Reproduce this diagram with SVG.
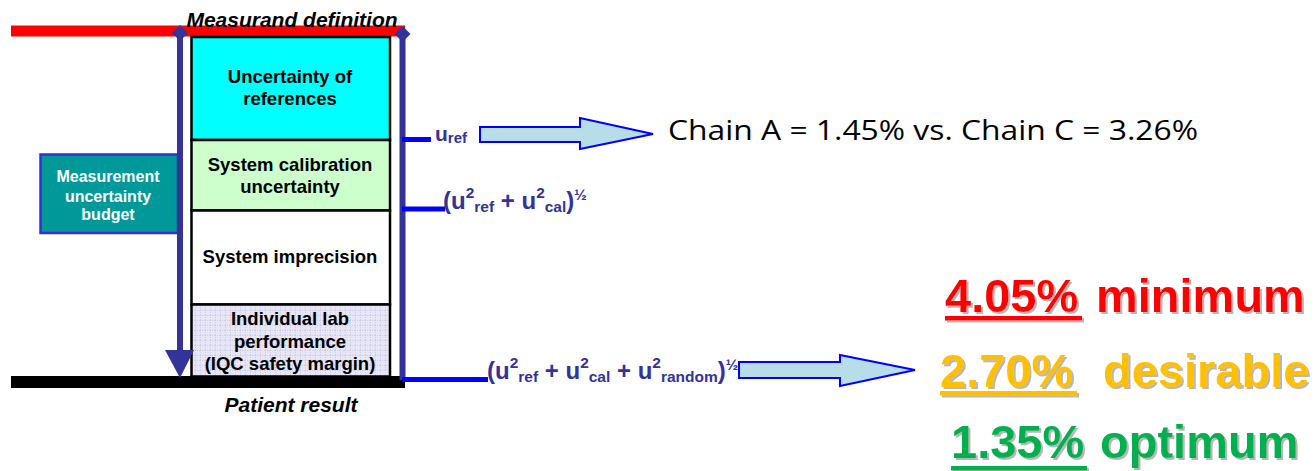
<svg xmlns="http://www.w3.org/2000/svg" width="1316" height="471" viewBox="0 0 1316 471">
<style>
.lbl{font-family:"Liberation Sans",Arial,sans-serif;font-weight:bold;font-size:18.5px;fill:#000;text-anchor:middle}
.ital{font-family:"Liberation Sans",Arial,sans-serif;font-weight:bold;font-style:italic;font-size:21px;fill:#000;text-anchor:middle}
.wt{font-family:"Liberation Sans",Arial,sans-serif;font-weight:bold;font-size:16px;fill:#fff;text-anchor:middle}
.fm{font-family:"Liberation Sans",Arial,sans-serif;font-weight:bold;font-size:24px;fill:#333399}
.sm{font-size:15.5px}
.half{font-size:15px}
.big{font-family:"Liberation Sans",Arial,sans-serif;font-weight:bold;font-size:47px}
.box{stroke:#000;stroke-width:2.5}
.bar{stroke:#333399;stroke-width:6;fill:none}
.tick{stroke:#0000FF;stroke-width:5;fill:none}
.arr{fill:#B7DEE8;stroke:#0000FF;stroke-width:2}
</style>
<defs>
<pattern id="grid" width="5" height="5" patternUnits="userSpaceOnUse">
<rect width="5" height="5" fill="#E6E6F7"/>
<path d="M0 0.5H5M0.5 0V5" stroke="#C9C9E6" stroke-width="0.8" stroke-dasharray="1 1"/>
</pattern>
<filter id="sh" x="-5%" y="-10%" width="115%" height="130%">
<feDropShadow dx="2" dy="2" stdDeviation="0.6" flood-color="#999" flood-opacity="0.7"/>
</filter>
</defs>
<rect width="1316" height="471" fill="#fff"/>

<g id="baselines">
<rect x="11" y="25.5" width="394" height="11" fill="#FF0000"/>
<rect x="11" y="376" width="394" height="12" fill="#000"/>
</g>

<g id="measurand-definition"><text class="ital" x="292" y="27">Measurand definition</text></g>
<g id="patient-result"><text class="ital" x="291" y="412">Patient result</text></g>

<g id="uncertainty-of-references">
<rect class="box" x="191.5" y="37" width="198.5" height="103" fill="#00FFFF"/>
<text class="lbl" x="290" y="83">Uncertainty of</text>
<text class="lbl" x="290" y="105">references</text>
</g>
<g id="system-calibration">
<rect class="box" x="191.5" y="140" width="198.5" height="70.5" fill="#CCFFCC"/>
<text class="lbl" x="290" y="170.5">System calibration</text>
<text class="lbl" x="290" y="192.5">uncertainty</text>
</g>
<g id="system-imprecision">
<rect class="box" x="191.5" y="210.5" width="198.5" height="94" fill="#FFFFFF"/>
<text class="lbl" x="290" y="263">System imprecision</text>
</g>
<g id="individual-lab">
<rect class="box" x="191.5" y="304.5" width="198.5" height="72" fill="url(#grid)"/>
<text class="lbl" x="290" y="325">Individual lab</text>
<text class="lbl" x="290" y="347.5">performance</text>
<text class="lbl" x="290" y="370">(IQC safety margin)</text>
</g>

<g id="measurement-uncertainty-budget">
<rect x="40.5" y="154.5" width="137.5" height="78.5" fill="#009999" stroke="#3333CC" stroke-width="2.5"/>
<text class="wt" x="108" y="182">Measurement</text>
<text class="wt" x="108" y="201.5">uncertainty</text>
<text class="wt" x="108" y="219.5">budget</text>
</g>

<g id="connectors">
<line class="bar" x1="180" y1="33" x2="180" y2="352"/>
<polygon points="165,350 194,350 180,378" fill="#333399"/>
<polygon points="180,25 188,33 180,41 172,33" fill="#333399"/>
<line class="bar" x1="402.5" y1="34" x2="402.5" y2="380" stroke-width="5"/>
<polygon points="402.5,26 410.5,34 402.5,42 394.5,34" fill="#333399"/>
<line class="tick" x1="402" y1="139.5" x2="431" y2="139.5"/>
<line class="tick" x1="402" y1="209" x2="445" y2="209"/>
<line class="tick" x1="402" y1="379.5" x2="488" y2="379.5"/>
<polygon class="arr" points="480,127 580,127 580,118 653,134 580,149 580,142 480,142"/>
<polygon class="arr" points="739,362 840,362 840,355 915,370 840,386 840,378 739,378"/>
</g>

<g id="u-ref">
<text class="fm" x="435" y="141" style="font-size:21px">u<tspan style="font-size:15px" dy="2">ref</tspan></text>
</g>
<g id="u-ref-cal">
<text class="fm" x="443" y="209">(u<tspan class="sm" dy="-11">2</tspan><tspan class="sm" dy="14">ref</tspan><tspan dy="-3"> + u</tspan><tspan class="sm" dy="-11">2</tspan><tspan class="sm" dy="14">cal</tspan><tspan dy="-3">)</tspan><tspan class="half" dy="-9">½</tspan></text>
</g>
<g id="u-ref-cal-random">
<text class="fm" x="487" y="379">(u<tspan class="sm" dy="-11">2</tspan><tspan class="sm" dy="14">ref</tspan><tspan dy="-3"> + u</tspan><tspan class="sm" dy="-11">2</tspan><tspan class="sm" dy="14">cal</tspan><tspan dy="-3"> + u</tspan><tspan class="sm" dy="-11">2</tspan><tspan class="sm" dy="14">random</tspan><tspan dy="-3">)</tspan><tspan class="half" dy="-9">½</tspan></text>
</g>

<g id="chain-comparison">
<text x="668" y="140" font-family="'Open Sans','Noto Sans',sans-serif" font-size="28" fill="#000" textLength="530" lengthAdjust="spacingAndGlyphs">Chain A = 1.45% vs. Chain C = 3.26%</text>
</g>

<g id="minimum" filter="url(#sh)">
<text class="big" x="945" y="312" fill="#FF0000">4.05%</text>
<rect x="945" y="316" width="137" height="4.5" fill="#FF0000"/>
<text class="big" x="1096" y="312" fill="#FF0000">minimum</text>
</g>
<g id="desirable" filter="url(#sh)">
<text class="big" x="940" y="387" fill="#FFC000">2.70%</text>
<rect x="940" y="391" width="137" height="4.5" fill="#FFC000"/>
<text class="big" x="1103" y="387" fill="#FFC000">desirable</text>
</g>
<g id="optimum" filter="url(#sh)">
<text class="big" x="951" y="458" fill="#00B050">1.35%</text>
<rect x="951" y="466" width="136" height="4.5" fill="#00B050"/>
<text class="big" x="1100" y="458" fill="#00B050">optimum</text>
</g>
</svg>
